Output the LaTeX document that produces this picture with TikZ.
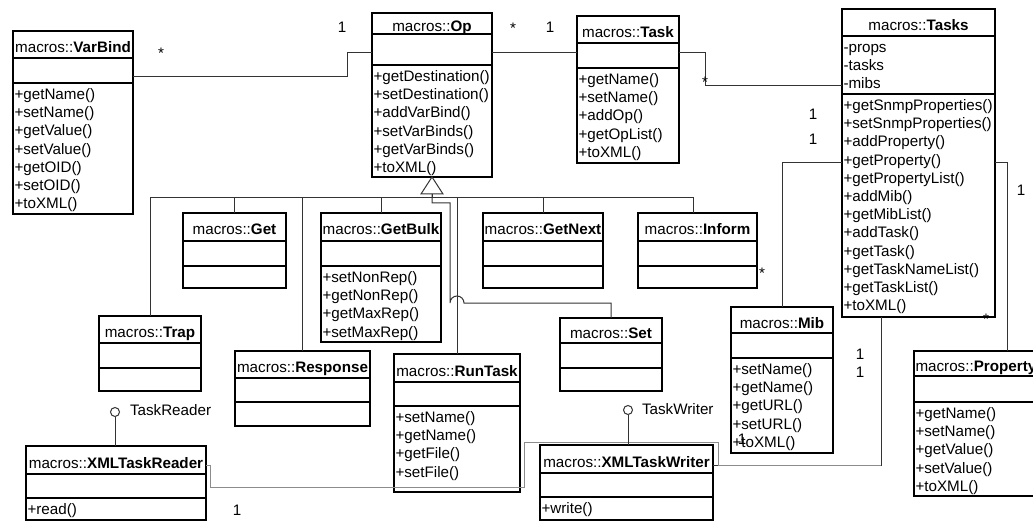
\documentclass[tikz,border=0pt]{standalone}
\usepackage{fontspec}
\setmainfont{Liberation Sans}
\newif\iftleft
\tikzset{
  clsbox/.style={rectangle, draw=black, line width=1.1pt, fill=white, inner sep=0pt, outer sep=0pt},
  clsline/.style={line width=1.1pt},
  txt/.style={inner sep=0pt, outer sep=0pt, yshift=-2.5pt, font=\fontsize{15.2}{18.2}\selectfont},
  conn/.style={line width=1pt, draw=black!80},
  lightconn/.style={line width=1pt, draw=black!45},
  lolli/.style={circle, draw=black!80, line width=1pt, fill=white, minimum size=9pt, inner sep=0pt},
}
\newcommand\umlcls[9]{%
  \node[clsbox, minimum width={#4-#2}, minimum height={#5-#3}, anchor=north west] (#1) at (#2,#3) {};
  \draw[clsline] (#2,#6) -- (#4,#6);
  \draw[clsline] (#2,#7) -- (#4,#7);
  \iftleft
    \node[txt, anchor=base west] (#1-t) at ({#2+1.5},{(#3+#6)/2+5.5}) {#8};
  \else
    \node[txt, anchor=base] (#1-t) at ({(#2+#4)/2},{(#3+#6)/2+5.5}) {#8};
  \fi
  \if\relax\detokenize{#9}\relax\else
    \foreach \mtext [count=\mi from 0] in {#9} {\node[txt, anchor=base west] (#1-m\mi) at ({#2+1.5},{#7+14+18.2*\mi}) {\mtext};}
  \fi
}
\begin{document}
\begin{tikzpicture}[x=1pt,y=-1pt]
\useasboundingbox (0,0) rectangle (1033,521);
\fill[white] (0,0) rectangle (1033,521);
\clip (0,0) rectangle (1033,521);

% classes
\umlcls{varbind}{13}{31}{133}{214}{58}{83}{macros::\textbf{VarBind}}{+getName(),+setName(),+getValue(),+setValue(),+getOID(),+setOID(),+toXML()}
\umlcls{op}{372}{13}{492}{177}{34}{65}{macros::\textbf{Op}}{+getDestination(),+setDestination(),+addVarBind(),+setVarBinds(),+getVarBinds(),+toXML()}
\umlcls{task}{577}{16}{679}{163}{43}{68}{macros::\textbf{Task}}{+getName(),+setName(),+addOp(),+getOpList(),+toXML()}
\umlcls{tasks}{842}{9}{995}{317}{36}{94}{macros::\textbf{Tasks}}{+getSnmpProperties(),+setSnmpProperties(),+addProperty(),+getProperty(),+getPropertyList(),+addMib(),+getMibList(),+addTask(),+getTask(),+getTaskNameList(),+getTaskList(),+toXML()}
\foreach \atext [count=\ai from 0] in {-props,-tasks,-mibs}
  {\node[txt, anchor=base west] (tasks-a\ai) at (843.5,{50+18.2*\ai}) {\atext};}
\umlcls{get}{183}{213}{286}{288}{241}{266}{macros::\textbf{Get}}{}
\umlcls{getbulk}{321}{213}{441}{342}{241}{266}{macros::\textbf{GetBulk}}{+setNonRep(),+getNonRep(),+getMaxRep(),+setMaxRep()}
\umlcls{getnext}{483}{213}{603}{288}{241}{266}{macros::\textbf{GetNext}}{}
\umlcls{inform}{638}{213}{757}{288}{241}{266}{macros::\textbf{Inform}}{}
\umlcls{trap}{99}{316}{201}{391}{343}{368}{macros::\textbf{Trap}}{}
\umlcls{response}{235}{351}{370}{426}{378}{402}{macros::\textbf{Response}}{}
\umlcls{runtask}{394}{354}{520}{492}{382}{406}{macros::\textbf{RunTask}}{+setName(),+getName(),+getFile(),+setFile()}
\umlcls{set}{560}{318}{662}{391}{343}{368}{macros::\textbf{Set}}{}
\umlcls{mib}{731}{307}{833}{453}{333}{358}{macros::\textbf{Mib}}{+setName(),+getName(),+getURL(),+setURL(),+toXML()}
\tlefttrue
\umlcls{property}{914}{351}{1050}{496}{376}{402}{macros::\textbf{Property}}{+getName(),+setName(),+getValue(),+setValue(),+toXML()}
\tleftfalse
\umlcls{reader}{26}{446}{206}{520}{474}{498}{macros::\textbf{XMLTaskReader}}{+read()}
\umlcls{writer}{540}{445}{713}{520}{473}{497}{macros::\textbf{XMLTaskWriter}}{+write()}

% associations
\draw[conn] (varbind.east |- 0,77) -- (347,77) |- (op.west |- 0,53);
\draw[conn] (op.east |- 0,53) -- (task.west |- 0,53);
\draw[conn] (task.east |- 0,53) -- (705,53) |- (tasks.west |- 0,86);
\draw[conn] (tasks.west |- 0,163) -| (mib.north -| 782,0);
\draw[conn] (tasks.east |- 0,163) -| (property.north -| 1007,0);
\draw[conn] (tasks.south -| 881,0) |- (writer.east |- 0,465);
\draw[lightconn] (reader.east |- 0,465) -- (210,465) -- (210,487) -- (524,487) -- (524,442) -- (718,442) -- (718,465) -- (881,465);

% generalization
\coordinate (tri) at (432,194);
\draw[conn, fill=white] (op.south) -- (421,194) -- (443,194) -- cycle;
\draw[conn] (tri) -- (432,198);
\draw[conn] (trap.north) -- (trap.north |- 0,198) -- (693,198) -- (inform.north -| 693,0);
\draw[conn] (get.north) -- (get.north |- 0,198);
\draw[conn] (response.north) -- (response.north |- 0,198);
\draw[conn] (getbulk.north) -- (getbulk.north |- 0,198);
\draw[conn] (runtask.north) -- (runtask.north |- 0,198);
\draw[conn] (getnext.north) -- (getnext.north |- 0,198);
\draw[conn] (tri) -- (432,203) -- (450,203) -- (450,303) arc[start angle=180, end angle=360, radius=7] -- (set.north |- 0,303) -- (set.north);

% interfaces
\node[lolli] (ireader) at (115,412) {};
\draw[conn] (ireader.south) -- (ireader.south |- reader.north);
\node[txt, anchor=base west] (ireader-l) at (130,413) {TaskReader};
\node[lolli] (iwriter) at (628,410) {};
\draw[conn] (iwriter.south) -- (iwriter.south |- writer.north);
\node[txt, anchor=base west] (iwriter-l) at (642,412) {TaskWriter};

% multiplicities
\node[txt, anchor=base] (m1) at (161,56) {*};
\node[txt, anchor=base] (m2) at (342,30) {1};
\node[txt, anchor=base] (m3) at (513,31) {*};
\node[txt, anchor=base] (m4) at (550,30) {1};
\node[txt, anchor=base] (m5) at (705,85) {*};
\node[txt, anchor=base] (m6) at (813,117) {1};
\node[txt, anchor=base] (m7) at (813,142) {1};
\node[txt, anchor=base] (m8) at (1021,193) {1};
\node[txt, anchor=base] (m9) at (762,276) {*};
\node[txt, anchor=base] (m10) at (986,322) {*};
\node[txt, anchor=base] (m11) at (860,357) {1};
\node[txt, anchor=base] (m12) at (860,375) {1};
\node[txt, anchor=base] (m13) at (742,442) {1};
\node[txt, anchor=base] (m14) at (237,513) {1};
\end{tikzpicture}
\end{document}
